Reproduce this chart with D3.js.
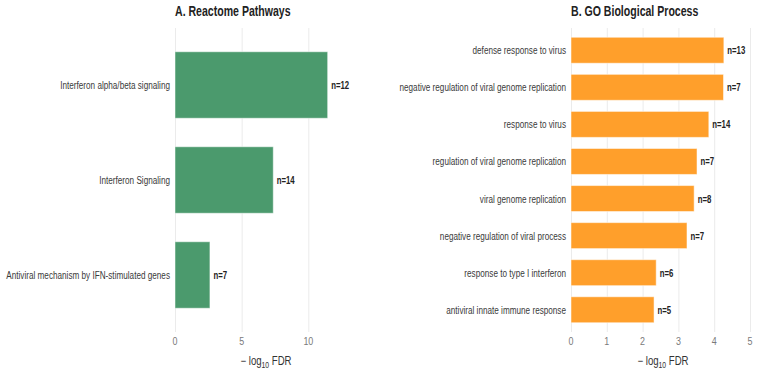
<!DOCTYPE html>
<html><head><meta charset="utf-8">
<script src="https://cdn.jsdelivr.net/npm/d3@7"></script>
<style>body{margin:0;background:#fff}svg{display:block}text{font-family:"Liberation Sans",Arial,sans-serif}</style>
</head><body><svg id="c" width="757" height="374"></svg>
<script>
const reactomeTerms = ["Interferon alpha/beta signaling","Interferon Signaling","Antiviral mechanism by IFN-stimulated genes"];
const reactomeValues = [11.45, 7.37, 2.62];
const reactomeCounts = [12, 14, 7];
const reactomeTicks = [0, 5, 10];

const goTerms = ["defense response to virus","negative regulation of viral genome replication","response to virus","regulation of viral genome replication","viral genome replication","negative regulation of viral process","response to type I interferon","antiviral innate immune response"];
const goValues = [4.27, 4.26, 3.85, 3.52, 3.44, 3.24, 2.38, 2.32];
const goCounts = [13, 7, 14, 7, 8, 7, 6, 5];
const goTicks = [0, 1, 2, 3, 4, 5];

const svg = d3.select("#c");
const SX = 0.74;

function txt(g, x, y, s, opts) {
  const t = g.append("text")
    .attr("transform", `translate(${x},${y}) scale(${opts.sx || SX},1)`)
    .attr("text-anchor", opts.anchor || "start")
    .attr("font-size", opts.size || 11)
    .attr("font-weight", opts.weight || "normal")
    .attr("fill", opts.fill || "#333")
    .text(s);
  return t;
}

function panel(cfg) {
  const g = svg.append("g");
  const x = d3.scaleLinear().domain([0, cfg.xmax]).range([cfg.x0, cfg.x1]);
  const y = d3.scaleBand().domain(cfg.terms).range([28, 332]).paddingInner(0.3).paddingOuter(0.25);
  const ax = d3.axisBottom(x).tickValues(cfg.ticks).tickSize(-(332 - 28)).tickFormat("");
  const ga = g.append("g").attr("transform", "translate(0,332)").call(ax);
  ga.select(".domain").remove();
  ga.selectAll(".tick line").attr("stroke", "#ebebeb").attr("stroke-width", 1);
  cfg.ticks.forEach(t => txt(g, x(t), 345, String(t), {anchor: "middle", size: 10.5, fill: "#7a7a7a", sx: 0.85}));
  g.selectAll("rect.bar").data(cfg.terms).join("rect")
    .attr("x", x(0))
    .attr("y", d => y(d))
    .attr("width", (d, i) => x(cfg.values[i]) - x(0))
    .attr("height", y.bandwidth())
    .attr("fill", cfg.color)
    .attr("stroke", "#ffffff").attr("stroke-opacity", 0.5).attr("stroke-width", 1);
  cfg.terms.forEach((d, i) => {
    const cy = y(d) + y.bandwidth() / 2 + 4;
    txt(g, x(0) - 5, cy, d, {anchor: "end", size: 11.5, fill: "#3a3a3a", sx: 0.71});
    txt(g, x(cfg.values[i]) + 3.5, cy, "n=" + cfg.counts[i], {size: 10.5, weight: "bold", fill: "#222"});
  });
  txt(g, cfg.x0, 16, cfg.title, {size: 14, weight: "bold", fill: "#222", sx: 0.755});
  const cx = (cfg.x0 + cfg.x1) / 2;
  const at = g.append("text")
    .attr("transform", `translate(${cx},365) scale(0.8,1)`)
    .attr("text-anchor", "middle").attr("font-size", 12).attr("fill", "#333");
  at.append("tspan").text("\u2212 log");
  at.append("tspan").attr("font-size", 8.5).attr("dy", 3).text("10");
  at.append("tspan").attr("dy", -3).text(" FDR");
}

panel({title: "A. Reactome Pathways", terms: reactomeTerms, values: reactomeValues, counts: reactomeCounts,
  ticks: reactomeTicks, xmax: 13.65, x0: 175, x1: 357, color: "#4b9a6d"});
panel({title: "B. GO Biological Process", terms: goTerms, values: goValues, counts: goCounts,
  ticks: goTicks, xmax: 5.14, x0: 571, x1: 755, color: "#ff9f2b"});
</script></body></html>
